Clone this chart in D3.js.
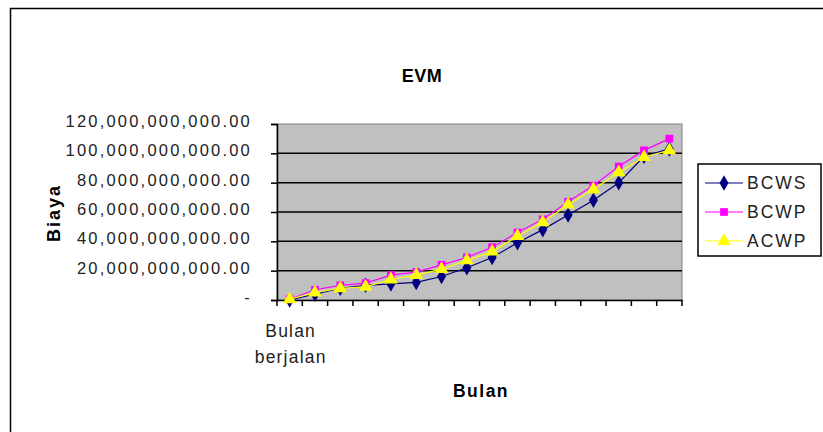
<!DOCTYPE html>
<html>
<head>
<meta charset="utf-8">
<script src="https://cdn.jsdelivr.net/npm/d3@7"></script>
<style>
  body { margin: 0; background: #fff; }
  svg { display: block; font-family: "Liberation Sans", Arial, sans-serif; }
</style>
</head>
<body>
<div id="chart"></div>
<script>
// values in billions (Rp)
const categories = ["Bulan berjalan", "", "", "", "", "", "", "", "", "", "", "", "", "", "", ""];
const bcws = [0, 4, 8, 10, 11, 12, 16, 22, 29, 39, 48, 58, 68, 80, 98, 103];
const bcwp = [0.5, 7, 10, 11.5, 17, 19, 24, 29, 36, 46, 55, 67, 78, 91, 102, 110];
const acwp = [0.5, 5, 8, 9, 14, 17, 21, 27, 33, 43.5, 53, 65, 75.5, 87, 97.5, 102];
const yTicks = [0, 20, 40, 60, 80, 100, 120];
const seriesNames = ["BCWS", "BCWP", "ACWP"];

const width = 823, height = 432;
const plot = {left: 277, right: 682, top: 124, bottom: 300};

const svg = d3.select("#chart").append("svg")
    .attr("width", width)
    .attr("height", height);

// outer chart frame (right and bottom edges run off the picture)
svg.append("rect")
    .attr("x", 10.5).attr("y", 8.5)
    .attr("width", 830).attr("height", 440)
    .attr("fill", "#fff")
    .attr("stroke", "#000")
    .attr("stroke-width", 1.5);

const x = d3.scaleBand()
    .domain(d3.range(categories.length))
    .range([plot.left, plot.right]);

const y = d3.scaleLinear()
    .domain([0, 120])
    .range([plot.bottom, plot.top]);

// plot area
svg.append("rect")
    .attr("x", plot.left).attr("y", plot.top)
    .attr("width", plot.right - plot.left)
    .attr("height", plot.bottom - plot.top)
    .attr("fill", "#c0c0c0")
    .attr("stroke", "#808080");

// grid lines
svg.append("g")
    .selectAll("line")
    .data(yTicks.filter(d => d > 0 && d < 120))
    .join("line")
    .attr("x1", plot.left).attr("x2", plot.right)
    .attr("y1", d => y(d)).attr("y2", d => y(d))
    .attr("stroke", "#000")
    .attr("stroke-width", 1.5);

// y axis
const fmt = d => d === 0 ? "-" : d3.format(",.2f")(d * 1e9);
const yAxis = svg.append("g")
    .attr("transform", `translate(${plot.left},0)`)
    .call(d3.axisLeft(y).tickValues(yTicks).tickSize(6).tickPadding(19).tickFormat(fmt));
yAxis.select(".domain").attr("stroke", "#000").attr("stroke-width", 1.5);
yAxis.selectAll(".tick line").attr("stroke", "#000").attr("stroke-width", 1.5);
yAxis.selectAll(".tick text")
    .attr("fill", "#222")
    .style("font-size", "16.5px")
    .style("letter-spacing", "2.2px")
    .attr("dy", "0.15em");

// x axis
const xAxis = svg.append("g")
    .attr("transform", `translate(0,${plot.bottom})`)
    .call(d3.axisBottom(x).tickSize(0).tickFormat(""));
xAxis.select(".domain").attr("stroke", "#000").attr("stroke-width", 1.5);
svg.append("g")
    .selectAll("line")
    .data(d3.range(categories.length + 1))
    .join("line")
    .attr("x1", i => plot.left + i * x.step())
    .attr("x2", i => plot.left + i * x.step())
    .attr("y1", plot.bottom).attr("y2", plot.bottom + 6)
    .attr("stroke", "#000").attr("stroke-width", 1.5);

// category labels (wrapped)
categories.forEach((c, i) => {
    if (!c) return;
    const words = c.split(" ");
    const t = svg.append("text")
        .attr("text-anchor", "middle")
        .attr("fill", "#222")
        .style("font-size", "17.5px")
        .style("letter-spacing", "1.2px");
    words.forEach((w, j) => {
        t.append("tspan")
            .attr("x", x(i) + x.bandwidth() / 2 + 1)
            .attr("y", 337 + j * 26)
            .text(w);
    });
});

// titles
svg.append("text")
    .attr("x", 422).attr("y", 82)
    .attr("text-anchor", "middle")
    .style("font-size", "18px").style("font-weight", "bold")
    .style("letter-spacing", "0.5px")
    .text("EVM");

svg.append("text")
    .attr("x", 481).attr("y", 397)
    .attr("text-anchor", "middle")
    .style("font-size", "17.5px").style("font-weight", "bold")
    .style("letter-spacing", "1.5px")
    .text("Bulan");

svg.append("text")
    .attr("transform", "translate(60,213) rotate(-90)")
    .attr("text-anchor", "middle")
    .style("font-size", "18px").style("font-weight", "bold")
    .style("letter-spacing", "2px")
    .text("Biaya");

// series
const series = [
    {name: seriesNames[0], values: bcws, color: "#000080", shape: d3.symbolDiamond, size: 70},
    {name: seriesNames[1], values: bcwp, color: "#ff00ff", shape: d3.symbolSquare, size: 60},
    {name: seriesNames[2], values: acwp, color: "#ffff00", shape: d3.symbolTriangle, size: 80}
];

const cx = i => x(i) + x.bandwidth() / 2;
const line = d3.line().x((d, i) => cx(i)).y(d => y(d));

series.forEach(s => {
    svg.append("path")
        .datum(s.values)
        .attr("d", line)
        .attr("fill", "none")
        .attr("stroke", s.color)
        .attr("stroke-width", 1.2);
    svg.append("g")
        .selectAll("path")
        .data(s.values)
        .join("path")
        .attr("transform", (d, i) => `translate(${cx(i)},${y(d)})`)
        .attr("d", d3.symbol().type(s.shape).size(s.size))
        .attr("fill", s.color);
});

// legend
const legend = svg.append("g").attr("transform", "translate(698,164)");
legend.append("rect")
    .attr("width", 123).attr("height", 92)
    .attr("fill", "#fff")
    .attr("stroke", "#000")
    .attr("stroke-width", 1.5);
series.forEach((s, i) => {
    const g = legend.append("g").attr("transform", `translate(0,${19 + i * 29})`);
    g.append("line")
        .attr("x1", 7).attr("x2", 45)
        .attr("stroke", s.color).attr("stroke-width", 1.2);
    g.append("path")
        .attr("transform", "translate(26,0)")
        .attr("d", d3.symbol().type(s.shape).size(s.size))
        .attr("fill", s.color);
    g.append("text")
        .attr("x", 49).attr("dy", "0.36em")
        .attr("fill", "#222")
        .style("font-size", "17.5px")
        .style("letter-spacing", "2px")
        .text(s.name);
});
</script>
</body>
</html>
